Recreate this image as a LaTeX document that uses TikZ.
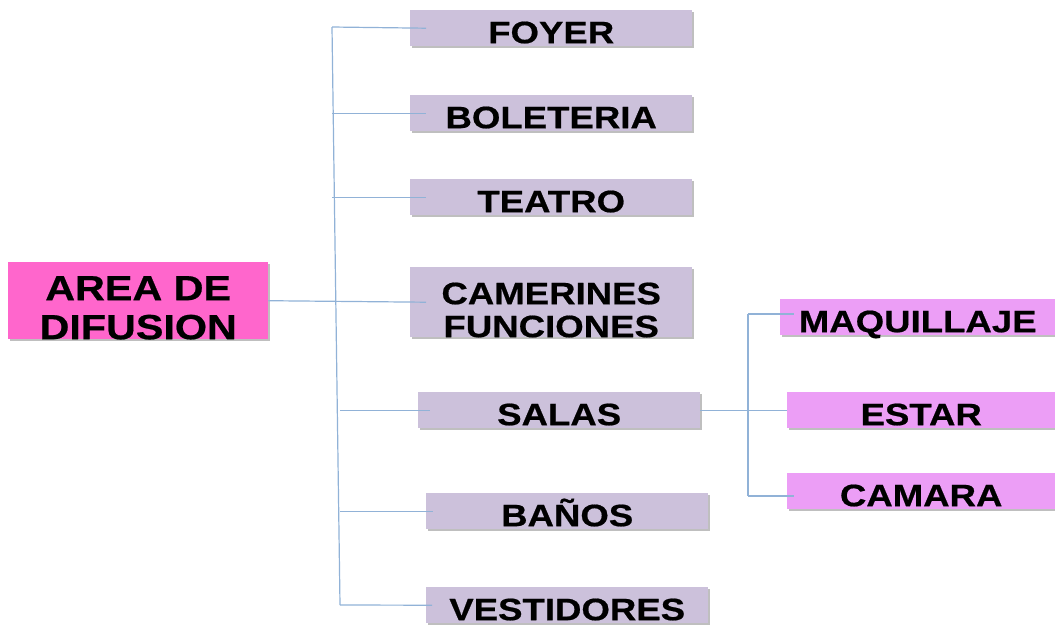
\documentclass[tikz,border=0pt]{standalone}
\usepackage{fontspec}
\setmainfont{Liberation Sans}[FakeStretch=1.18,FakeBold=0.6]
\usetikzlibrary{calc,shadows}
\definecolor{lavbox}{RGB}{204,193,219}
\definecolor{hotpink}{RGB}{255,102,204}
\definecolor{orchidbox}{RGB}{236,158,246}
\definecolor{linkblue}{RGB}{145,178,215}

\tikzset{
  roombox/.style={fill=lavbox, anchor=north west, minimum width=282pt,
    minimum height=36pt, inner sep=0pt, align=center,
    text height=30pt, text depth=0pt,
    font=\fontsize{31}{33}\selectfont\bfseries,
    drop shadow={shadow xshift=1.5pt, shadow yshift=-1.5pt, fill=gray, opacity=0.5}},
  subbox/.style={roombox, fill=orchidbox},
  mainbox/.style={roombox, fill=hotpink, minimum width=260pt, minimum height=75pt,
    text height=77pt, text depth=-2pt, font=\fontsize{35}{39}\selectfont\bfseries},
  link/.style={draw=linkblue, line width=1.2pt}
}

\begin{document}
\begin{tikzpicture}[x=1pt,y=-1pt]
    \useasboundingbox (0,0) rectangle (1055,625);

    % main area
    \node[mainbox] (area) at (8,262) {AREA DE\\DIFUSION};

    % rooms
    \node[roombox] (foyer) at (410,10) {FOYER};
    \node[roombox] (boleteria) at (410,95) {BOLETERIA};
    \node[roombox] (teatro) at (410,179) {TEATRO};
    \node[roombox, minimum height=66pt, text height=70pt, text depth=-4pt] (camerines) at (410,267) {CAMERINES\\FUNCIONES};
    \node[roombox] (salas) at (418,392) {SALAS};
    \node[roombox] (banos) at (426,493) {BAÑOS};
    \node[roombox] (vestidores) at (426,587) {VESTIDORES};

    % rooms of the salas
    \node[subbox, minimum width=275pt] (maquillaje) at (780,299) {MAQUILLAJE};
    \node[subbox, minimum width=268pt] (estar) at (787,392) {ESTAR};
    \node[subbox, minimum width=268pt] (camara) at (787,473) {CAMARA};

    % trunk lines
    \coordinate (trunktop) at (332,27);
    \coordinate (trunkbot) at (340,605);
    \coordinate (subtop) at (748,314);
    \coordinate (subbot) at (748,496);
    \draw[link] (trunktop) -- (trunkbot);
    \draw[link] (subtop) -- (subbot);

    % branches
    \draw[link] (trunktop) -- ($(foyer.west)+(16,0)$);
    \draw[link] (boleteria.west -| trunktop) -- ($(boleteria.west)+(16,0)$);
    \draw[link] (teatro.west -| trunktop) -- ($(teatro.west)+(16,0)$);
    \draw[link] (area.east) -- ($(camerines.west)+(16,0)$);
    \draw[link] (salas.west -| trunkbot) -- ($(salas.west)+(12,0)$);
    \draw[link] (banos.west -| trunkbot) -- ($(banos.west)+(7,0)$);
    \draw[link] (trunkbot) -- ($(vestidores.west)+(6,0)$);

    \draw[link] (salas.east) -- (estar.west);
    \draw[link] (subtop) -- (subtop -| maquillaje.west) -- ++(14,0);
    \draw[link] (subbot) -- (subbot -| camara.west) -- ++(7,0);
\end{tikzpicture}
\end{document}
